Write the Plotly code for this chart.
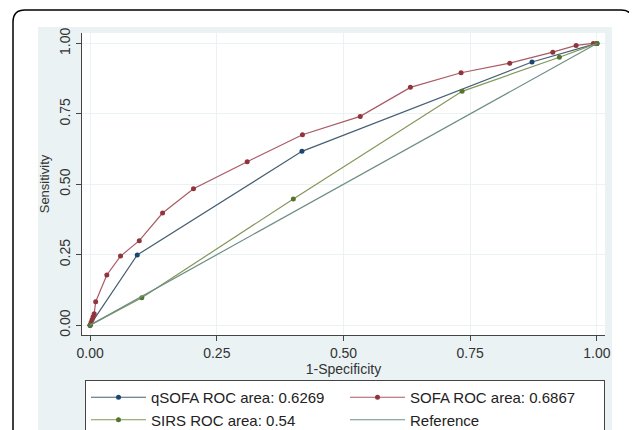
import plotly.graph_objects as go

# Data (1-Specificity, Sensitivity)
sofa_x = [0.0, 0.002, 0.004, 0.006, 0.008, 0.011, 0.033, 0.060, 0.097, 0.143, 0.204, 0.310, 0.419, 0.533, 0.632, 0.732, 0.828, 0.913, 0.959, 0.993, 1.0]
sofa_y = [0.0, 0.010, 0.020, 0.030, 0.040, 0.083, 0.178, 0.245, 0.300, 0.398, 0.484, 0.580, 0.676, 0.741, 0.844, 0.896, 0.930, 0.969, 0.993, 1.0, 1.0]
qsofa_x = [0.0, 0.093, 0.418, 0.872, 1.0]
qsofa_y = [0.0, 0.249, 0.617, 0.934, 1.0]
sirs_x = [0.0, 0.102, 0.401, 0.734, 0.926, 1.0]
sirs_y = [0.0, 0.097, 0.448, 0.830, 0.951, 1.0]
ref_x = [0.0, 1.0]
ref_y = [0.0, 1.0]

names = ["qSOFA ROC area: 0.6269", "SOFA ROC area: 0.6867", "SIRS ROC area: 0.54", "Reference"]
ticks = [0, 0.25, 0.5, 0.75, 1.0]
tick_text = ["0.00", "0.25", "0.50", "0.75", "1.00"]

navy = "rgb(26,71,111)"
maroon = "rgb(144,53,59)"
green = "rgb(85,117,47)"
teal = "rgb(110,142,132)"
bg = "rgb(234,242,243)"

fig = go.Figure()
fig.add_trace(go.Scatter(x=qsofa_x, y=qsofa_y, mode="lines+markers", name=names[0],
                         line=dict(color="rgb(70,95,115)", width=1.2),
                         marker=dict(color=navy, size=5)))
fig.add_trace(go.Scatter(x=sofa_x, y=sofa_y, mode="lines+markers", name=names[1],
                         line=dict(color="rgb(170,90,100)", width=1.2),
                         marker=dict(color=maroon, size=5)))
fig.add_trace(go.Scatter(x=sirs_x, y=sirs_y, mode="lines+markers", name=names[2],
                         line=dict(color="rgb(130,150,90)", width=1.2),
                         marker=dict(color=green, size=5)))
fig.add_trace(go.Scatter(x=ref_x, y=ref_y, mode="lines", name=names[3],
                         line=dict(color=teal, width=1.2)))

OFF = 8  # page body margin
W, H = 637 - OFF, 430 - OFF
L = 82 - OFF
T = 33 - OFF
R = W - (605 - OFF)
B = H - (335 - OFF)
pw, ph = W - L - R, H - T - B

def px(x):
    return (x - OFF - L) / pw

def py(y):
    return (H - B - (y - OFF)) / ph

shapes = [
    dict(type="rect", xref="paper", yref="paper", layer="below",
         x0=px(38), x1=px(612), y0=py(445), y1=py(27),
         fillcolor=bg, line=dict(width=0)),
    dict(type="rect", xref="paper", yref="paper", layer="below",
         x0=0, x1=1, y0=0, y1=1, fillcolor="white", line=dict(width=0)),
]
r = 12
x0, x1, y0, y1 = 13, 633, 10, 450
path = (f"M {x0},{y1} L {x0},{y0 + r} Q {x0},{y0} {x0 + r},{y0} "
        f"L {x1 - r},{y0} Q {x1},{y0} {x1},{y0 + r} L {x1},{y1}")

def conv(path):
    out = []
    for t in path.split():
        if "," in t:
            a, b = t.split(",")
            out.append(f"{px(float(a)):.5f},{py(float(b)):.5f}")
        else:
            out.append(t)
    return " ".join(out)

shapes.append(dict(type="path", xref="paper", yref="paper", path=conv(path),
                   line=dict(color="black", width=1.5)))

fig.update_layout(
    width=W, height=H,
    margin=dict(l=L, r=R, t=T, b=B, autoexpand=False),
    paper_bgcolor="white",
    plot_bgcolor="white",
    font=dict(family="Liberation Sans, Arial", size=14, color="#333"),
    shapes=shapes,
    showlegend=True,
    legend=dict(orientation="h", xref="container", yref="container",
                x=(85 - OFF) / W, y=1 - (380 - OFF) / H, xanchor="left", yanchor="top",
                entrywidth=189, entrywidthmode="pixels", itemwidth=55,
                bordercolor="#444", borderwidth=1, bgcolor="white",
                font=dict(size=15, color="#222"), tracegroupgap=0,
                traceorder="normal"),
    xaxis=dict(range=[-0.016, 1.016], tickvals=ticks, ticktext=tick_text,
               showgrid=True, gridcolor=bg, gridwidth=1, zeroline=False,
               showline=True, linecolor="#444", linewidth=1.2,
               ticks="outside", ticklen=5, tickcolor="#444", automargin=False,
               tickfont=dict(size=14),
               title=dict(text="1-Specificity", standoff=0, font=dict(size=14))),
    yaxis=dict(range=[-0.035, 1.037], tickvals=ticks, ticktext=tick_text,
               tickangle=-90, automargin=False, tickfont=dict(size=14),
               showgrid=True, gridcolor=bg, gridwidth=1, zeroline=False,
               showline=True, linecolor="#444", linewidth=1.2,
               ticks="outside", ticklen=5, tickcolor="#444",
               title=dict(text="Sensitivity", standoff=4, font=dict(size=13))),
)

fig.write_html("out.html")
